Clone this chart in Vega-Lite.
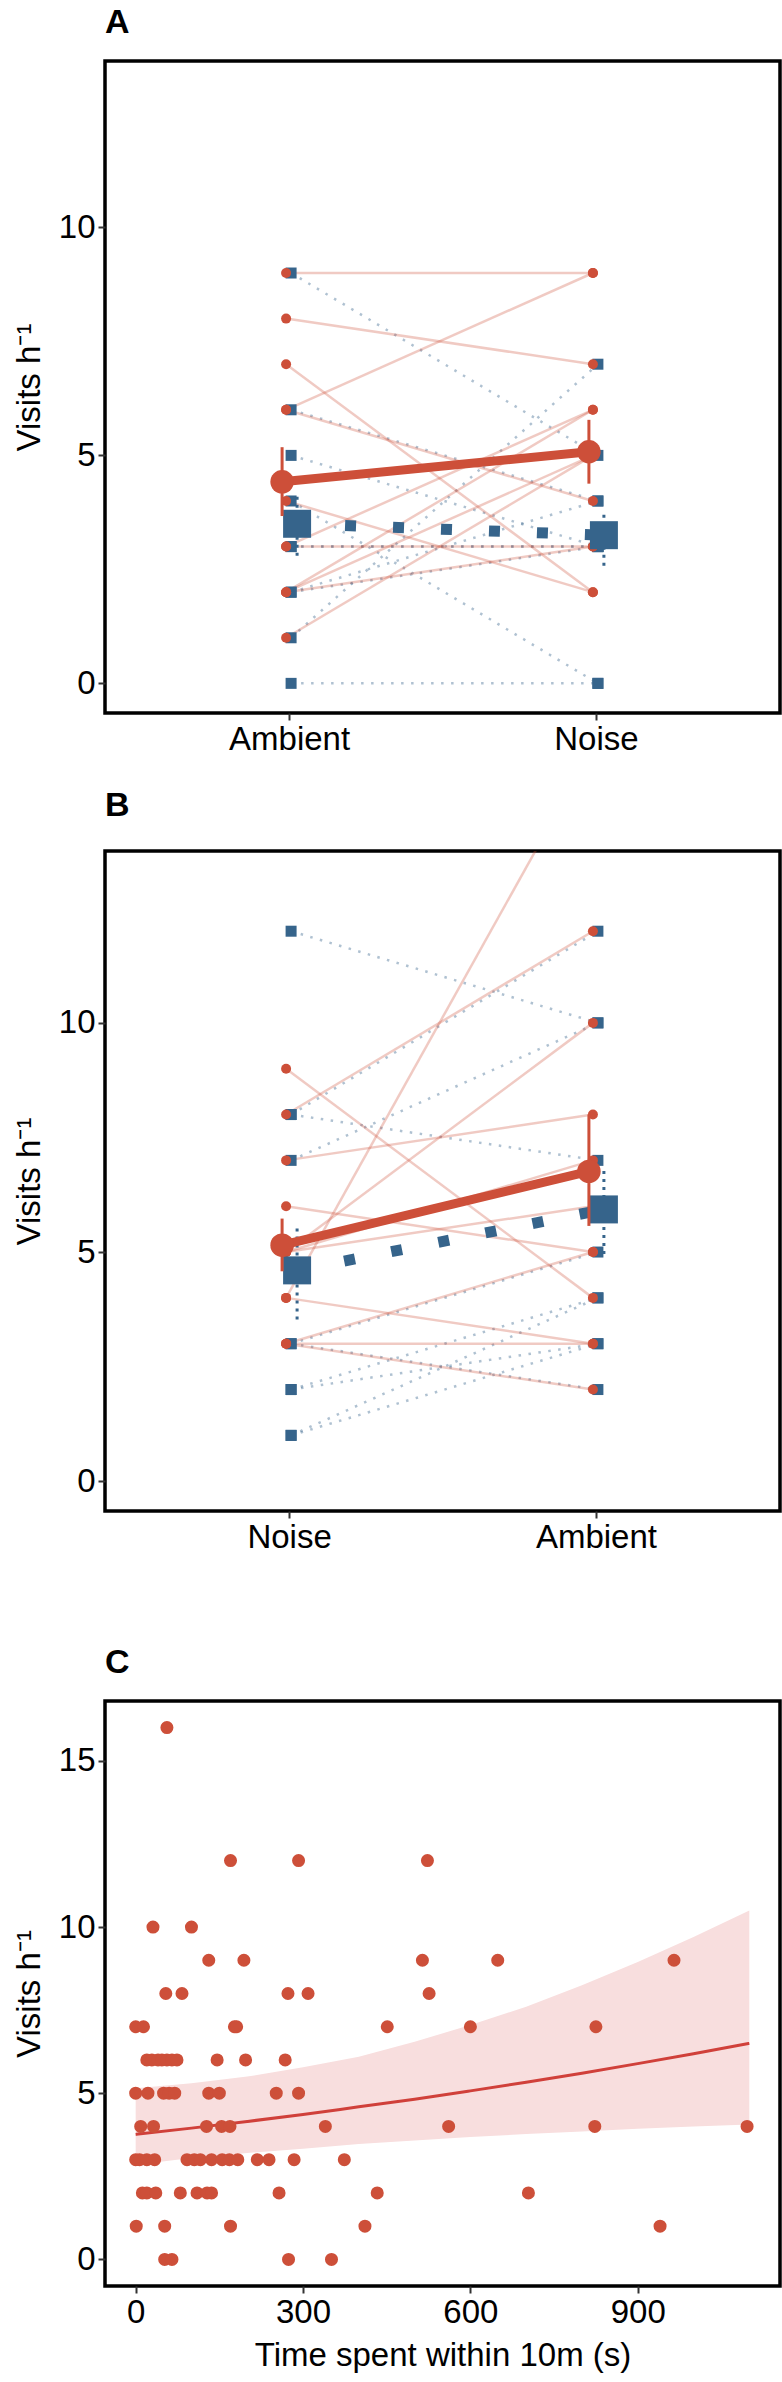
{
  "$schema": "https://vega.github.io/schema/vega-lite/v6.json",
  "background": "white",
  "padding": {"left": 11, "top": 4, "right": 2, "bottom": 0},
  "spacing": 29,
  "config": {
    "font": "Liberation Sans",
    "view": {"stroke": "black", "strokeWidth": 3.5},
    "axis": {"domain": false, "grid": false, "labelFont": "Liberation Sans", "labelFontSize": 33, "labelColor": "black", "titleFont": "Liberation Sans", "titleFontSize": 33, "titleFontWeight": "normal", "titleColor": "black", "tickColor": "#333333", "tickWidth": 2, "tickSize": 7, "labelPadding": 3},
    "axisY": {"titlePadding": 12},
    "axisX": {"titlePadding": 10, "labelAngle": 0},
    "title": {"font": "Liberation Sans", "fontSize": 34, "fontWeight": "bold", "anchor": "start", "frame": "group", "color": "black"}
  },
  "datasets": {
    "a_ind": [
      {"grp": "G1", "id": "r1", "cond": "Ambient", "v": 9}, {"grp": "G1", "id": "r1", "cond": "Noise", "v": 9},
      {"grp": "G1", "id": "r2", "cond": "Ambient", "v": 8}, {"grp": "G1", "id": "r2", "cond": "Noise", "v": 7},
      {"grp": "G1", "id": "r3", "cond": "Ambient", "v": 7}, {"grp": "G1", "id": "r3", "cond": "Noise", "v": 2},
      {"grp": "G1", "id": "r4", "cond": "Ambient", "v": 6}, {"grp": "G1", "id": "r4", "cond": "Noise", "v": 9},
      {"grp": "G1", "id": "r5", "cond": "Ambient", "v": 6}, {"grp": "G1", "id": "r5", "cond": "Noise", "v": 4},
      {"grp": "G1", "id": "r6", "cond": "Ambient", "v": 4}, {"grp": "G1", "id": "r6", "cond": "Noise", "v": 2},
      {"grp": "G1", "id": "r7", "cond": "Ambient", "v": 3}, {"grp": "G1", "id": "r7", "cond": "Noise", "v": 3},
      {"grp": "G1", "id": "r8", "cond": "Ambient", "v": 3}, {"grp": "G1", "id": "r8", "cond": "Noise", "v": 6},
      {"grp": "G1", "id": "r9", "cond": "Ambient", "v": 2}, {"grp": "G1", "id": "r9", "cond": "Noise", "v": 5},
      {"grp": "G1", "id": "r10", "cond": "Ambient", "v": 2}, {"grp": "G1", "id": "r10", "cond": "Noise", "v": 6},
      {"grp": "G1", "id": "r11", "cond": "Ambient", "v": 2}, {"grp": "G1", "id": "r11", "cond": "Noise", "v": 3},
      {"grp": "G1", "id": "r12", "cond": "Ambient", "v": 1}, {"grp": "G1", "id": "r12", "cond": "Noise", "v": 5},
      {"grp": "G2", "id": "b1", "cond": "Ambient", "v": 9}, {"grp": "G2", "id": "b1", "cond": "Noise", "v": 5},
      {"grp": "G2", "id": "b2", "cond": "Ambient", "v": 6}, {"grp": "G2", "id": "b2", "cond": "Noise", "v": 4},
      {"grp": "G2", "id": "b3", "cond": "Ambient", "v": 5}, {"grp": "G2", "id": "b3", "cond": "Noise", "v": 3},
      {"grp": "G2", "id": "b4", "cond": "Ambient", "v": 4}, {"grp": "G2", "id": "b4", "cond": "Noise", "v": 0},
      {"grp": "G2", "id": "b5", "cond": "Ambient", "v": 3}, {"grp": "G2", "id": "b5", "cond": "Noise", "v": 3},
      {"grp": "G2", "id": "b6", "cond": "Ambient", "v": 3}, {"grp": "G2", "id": "b6", "cond": "Noise", "v": 3},
      {"grp": "G2", "id": "b7", "cond": "Ambient", "v": 2}, {"grp": "G2", "id": "b7", "cond": "Noise", "v": 3},
      {"grp": "G2", "id": "b8", "cond": "Ambient", "v": 2}, {"grp": "G2", "id": "b8", "cond": "Noise", "v": 4},
      {"grp": "G2", "id": "b9", "cond": "Ambient", "v": 1}, {"grp": "G2", "id": "b9", "cond": "Noise", "v": 7},
      {"grp": "G2", "id": "b10", "cond": "Ambient", "v": 0}, {"grp": "G2", "id": "b10", "cond": "Noise", "v": 0}
    ],
    "a_mean": [
      {"grp": "G1", "cond": "Ambient", "v": 4.42, "lo": 3.67, "hi": 5.18},
      {"grp": "G1", "cond": "Noise", "v": 5.08, "lo": 4.38, "hi": 5.78},
      {"grp": "G2", "cond": "Ambient", "v": 3.5, "lo": 2.8, "hi": 4.17},
      {"grp": "G2", "cond": "Noise", "v": 3.25, "lo": 2.58, "hi": 3.7}
    ],
    "b_ind": [
      {"grp": "G1", "id": "r1", "cond": "Noise", "v": 9}, {"grp": "G1", "id": "r1", "cond": "Ambient", "v": 4},
      {"grp": "G1", "id": "r2", "cond": "Noise", "v": 8}, {"grp": "G1", "id": "r2", "cond": "Ambient", "v": 12},
      {"grp": "G1", "id": "r3", "cond": "Noise", "v": 7}, {"grp": "G1", "id": "r3", "cond": "Ambient", "v": 8},
      {"grp": "G1", "id": "r4", "cond": "Noise", "v": 6}, {"grp": "G1", "id": "r4", "cond": "Ambient", "v": 5},
      {"grp": "G1", "id": "r5", "cond": "Noise", "v": 5}, {"grp": "G1", "id": "r5", "cond": "Ambient", "v": 10},
      {"grp": "G1", "id": "r6", "cond": "Noise", "v": 5}, {"grp": "G1", "id": "r6", "cond": "Ambient", "v": 6},
      {"grp": "G1", "id": "r7", "cond": "Noise", "v": 4}, {"grp": "G1", "id": "r7", "cond": "Ambient", "v": 16},
      {"grp": "G1", "id": "r8", "cond": "Noise", "v": 4}, {"grp": "G1", "id": "r8", "cond": "Ambient", "v": 3},
      {"grp": "G1", "id": "r9", "cond": "Noise", "v": 3}, {"grp": "G1", "id": "r9", "cond": "Ambient", "v": 3},
      {"grp": "G1", "id": "r10", "cond": "Noise", "v": 3}, {"grp": "G1", "id": "r10", "cond": "Ambient", "v": 5},
      {"grp": "G1", "id": "r11", "cond": "Noise", "v": 3}, {"grp": "G1", "id": "r11", "cond": "Ambient", "v": 2},
      {"grp": "G1", "id": "r12", "cond": "Noise", "v": 5}, {"grp": "G1", "id": "r12", "cond": "Ambient", "v": 7},
      {"grp": "G2", "id": "b1", "cond": "Noise", "v": 12}, {"grp": "G2", "id": "b1", "cond": "Ambient", "v": 10},
      {"grp": "G2", "id": "b2", "cond": "Noise", "v": 8}, {"grp": "G2", "id": "b2", "cond": "Ambient", "v": 12},
      {"grp": "G2", "id": "b3", "cond": "Noise", "v": 8}, {"grp": "G2", "id": "b3", "cond": "Ambient", "v": 7},
      {"grp": "G2", "id": "b4", "cond": "Noise", "v": 7}, {"grp": "G2", "id": "b4", "cond": "Ambient", "v": 10},
      {"grp": "G2", "id": "b5", "cond": "Noise", "v": 3}, {"grp": "G2", "id": "b5", "cond": "Ambient", "v": 5},
      {"grp": "G2", "id": "b6", "cond": "Noise", "v": 3}, {"grp": "G2", "id": "b6", "cond": "Ambient", "v": 2},
      {"grp": "G2", "id": "b7", "cond": "Noise", "v": 2}, {"grp": "G2", "id": "b7", "cond": "Ambient", "v": 4},
      {"grp": "G2", "id": "b8", "cond": "Noise", "v": 2}, {"grp": "G2", "id": "b8", "cond": "Ambient", "v": 3},
      {"grp": "G2", "id": "b9", "cond": "Noise", "v": 1}, {"grp": "G2", "id": "b9", "cond": "Ambient", "v": 4},
      {"grp": "G2", "id": "b10", "cond": "Noise", "v": 1}, {"grp": "G2", "id": "b10", "cond": "Ambient", "v": 3}
    ],
    "b_mean": [
      {"grp": "G1", "cond": "Noise", "v": 5.15, "lo": 4.58, "hi": 5.73},
      {"grp": "G1", "cond": "Ambient", "v": 6.76, "lo": 5.57, "hi": 8.0},
      {"grp": "G2", "cond": "Noise", "v": 4.6, "lo": 3.53, "hi": 5.62},
      {"grp": "G2", "cond": "Ambient", "v": 5.93, "lo": 4.96, "hi": 6.84}
    ],
    "c_pts": [
      {"t": 56, "v": 16},
      {"t": 170, "v": 12}, {"t": 292, "v": 12}, {"t": 523, "v": 12},
      {"t": 31, "v": 10}, {"t": 100, "v": 10},
      {"t": 131, "v": 9}, {"t": 194, "v": 9}, {"t": 514, "v": 9}, {"t": 649, "v": 9}, {"t": 965, "v": 9},
      {"t": 54, "v": 8}, {"t": 83, "v": 8}, {"t": 273, "v": 8}, {"t": 309, "v": 8}, {"t": 526, "v": 8},
      {"t": 0, "v": 7}, {"t": 14, "v": 7}, {"t": 177, "v": 7}, {"t": 181, "v": 7}, {"t": 451, "v": 7}, {"t": 600, "v": 7}, {"t": 825, "v": 7},
      {"t": 20, "v": 6}, {"t": 29, "v": 6}, {"t": 40, "v": 6}, {"t": 47, "v": 6}, {"t": 56, "v": 6}, {"t": 65, "v": 6}, {"t": 74, "v": 6}, {"t": 146, "v": 6}, {"t": 197, "v": 6}, {"t": 268, "v": 6},
      {"t": 0, "v": 5}, {"t": 22, "v": 5}, {"t": 50, "v": 5}, {"t": 60, "v": 5}, {"t": 70, "v": 5}, {"t": 131, "v": 5}, {"t": 150, "v": 5}, {"t": 252, "v": 5}, {"t": 292, "v": 5},
      {"t": 9, "v": 4}, {"t": 32, "v": 4}, {"t": 127, "v": 4}, {"t": 154, "v": 4}, {"t": 169, "v": 4}, {"t": 340, "v": 4}, {"t": 561, "v": 4}, {"t": 823, "v": 4}, {"t": 1096, "v": 4},
      {"t": 0, "v": 3}, {"t": 7, "v": 3}, {"t": 20, "v": 3}, {"t": 34, "v": 3}, {"t": 92, "v": 3}, {"t": 105, "v": 3}, {"t": 116, "v": 3}, {"t": 136, "v": 3}, {"t": 155, "v": 3}, {"t": 168, "v": 3}, {"t": 183, "v": 3}, {"t": 218, "v": 3}, {"t": 239, "v": 3}, {"t": 284, "v": 3}, {"t": 374, "v": 3},
      {"t": 12, "v": 2}, {"t": 20, "v": 2}, {"t": 36, "v": 2}, {"t": 80, "v": 2}, {"t": 110, "v": 2}, {"t": 128, "v": 2}, {"t": 136, "v": 2}, {"t": 257, "v": 2}, {"t": 433, "v": 2}, {"t": 704, "v": 2},
      {"t": 1, "v": 1}, {"t": 52, "v": 1}, {"t": 170, "v": 1}, {"t": 411, "v": 1}, {"t": 940, "v": 1},
      {"t": 52, "v": 0}, {"t": 65, "v": 0}, {"t": 274, "v": 0}, {"t": 351, "v": 0}
    ],
    "c_fit": [
      {"t": 0, "fit": 3.76, "lo": 2.85, "hi": 5.15},
      {"t": 100, "fit": 3.95, "lo": 3.05, "hi": 5.3},
      {"t": 200, "fit": 4.15, "lo": 3.2, "hi": 5.5},
      {"t": 300, "fit": 4.36, "lo": 3.33, "hi": 5.78},
      {"t": 400, "fit": 4.59, "lo": 3.47, "hi": 6.1},
      {"t": 500, "fit": 4.82, "lo": 3.58, "hi": 6.55},
      {"t": 600, "fit": 5.07, "lo": 3.68, "hi": 7.05},
      {"t": 700, "fit": 5.33, "lo": 3.77, "hi": 7.6},
      {"t": 800, "fit": 5.6, "lo": 3.85, "hi": 8.25},
      {"t": 900, "fit": 5.89, "lo": 3.93, "hi": 8.95},
      {"t": 1000, "fit": 6.19, "lo": 4.0, "hi": 9.7},
      {"t": 1100, "fit": 6.5, "lo": 4.06, "hi": 10.5}
    ]
  },
  "vconcat": [
    {
      "width": 675, "height": 652,
      "title": {"text": "A", "offset": 21},
      "encoding": {
        "x": {"field": "cond", "type": "ordinal", "scale": {"type": "point", "padding": 0.6, "domain": ["Ambient", "Noise"]}, "axis": {"title": null, "labelAngle": 0}}
      },
      "layer": [
        {"data": {"name": "a_ind"}, "transform": [{"filter": "datum.grp == 'G2'"}],
         "mark": {"type": "line", "color": "#36648B", "strokeWidth": 2.5, "strokeDash": [2.5, 7.5], "opacity": 0.4, "xOffset": 2},
         "encoding": {"y": {"field": "v", "type": "quantitative", "title": "Visits h⁻¹", "scale": {"domain": [-0.65, 13.65], "nice": false, "zero": false}, "axis": {"values": [0, 5, 10]}}, "detail": {"field": "id"}}},
        {"data": {"name": "a_ind"}, "transform": [{"filter": "datum.grp == 'G1'"}],
         "mark": {"type": "line", "color": "#CD4F39", "strokeWidth": 2.5, "opacity": 0.3, "xOffset": -3},
         "encoding": {"y": {"field": "v", "type": "quantitative", "title": "Visits h⁻¹"}, "detail": {"field": "id"}}},
        {"data": {"name": "a_ind"}, "transform": [{"filter": "datum.grp == 'G2'"}],
         "mark": {"type": "point", "shape": "square", "filled": true, "color": "#36648B", "size": 121, "opacity": 1, "xOffset": 2},
         "encoding": {"y": {"field": "v", "type": "quantitative", "title": "Visits h⁻¹"}}},
        {"data": {"name": "a_ind"}, "transform": [{"filter": "datum.grp == 'G1'"}],
         "mark": {"type": "circle", "color": "#CD4F39", "size": 100, "opacity": 1, "xOffset": -3},
         "encoding": {"y": {"field": "v", "type": "quantitative", "title": "Visits h⁻¹"}}},
        {"data": {"name": "a_mean"}, "transform": [{"filter": "datum.grp == 'G2'"}],
         "mark": {"type": "line", "color": "#36648B", "strokeWidth": 11, "strokeDash": [11, 37], "strokeCap": "butt", "xOffset": 8},
         "encoding": {"y": {"field": "v", "type": "quantitative", "title": "Visits h⁻¹"}}},
        {"data": {"name": "a_mean"}, "transform": [{"filter": "datum.grp == 'G2'"}],
         "mark": {"type": "rule", "color": "#36648B", "strokeWidth": 3, "strokeDash": [3, 5], "xOffset": 8},
         "encoding": {"y": {"field": "lo", "type": "quantitative", "title": "Visits h⁻¹"}, "y2": {"field": "hi"}}},
        {"data": {"name": "a_mean"}, "transform": [{"filter": "datum.grp == 'G2'"}],
         "mark": {"type": "point", "shape": "square", "filled": true, "color": "#36648B", "size": 784, "opacity": 1, "xOffset": 8},
         "encoding": {"y": {"field": "v", "type": "quantitative", "title": "Visits h⁻¹"}}},
        {"data": {"name": "a_mean"}, "transform": [{"filter": "datum.grp == 'G1'"}],
         "mark": {"type": "line", "color": "#CD4F39", "strokeWidth": 9, "xOffset": -7},
         "encoding": {"y": {"field": "v", "type": "quantitative", "title": "Visits h⁻¹"}}},
        {"data": {"name": "a_mean"}, "transform": [{"filter": "datum.grp == 'G1'"}],
         "mark": {"type": "rule", "color": "#CD4F39", "strokeWidth": 3, "xOffset": -7},
         "encoding": {"y": {"field": "lo", "type": "quantitative", "title": "Visits h⁻¹"}, "y2": {"field": "hi"}}},
        {"data": {"name": "a_mean"}, "transform": [{"filter": "datum.grp == 'G1'"}],
         "mark": {"type": "circle", "color": "#CD4F39", "size": 552, "opacity": 1, "xOffset": -7},
         "encoding": {"y": {"field": "v", "type": "quantitative", "title": "Visits h⁻¹"}}}
      ]
    },
    {
      "width": 675, "height": 660,
      "title": {"text": "B", "offset": 28},
      "encoding": {
        "x": {"field": "cond", "type": "ordinal", "scale": {"type": "point", "padding": 0.6, "domain": ["Noise", "Ambient"]}, "axis": {"title": null, "labelAngle": 0}}
      },
      "layer": [
        {"data": {"name": "b_ind"}, "transform": [{"filter": "datum.grp == 'G2'"}],
         "mark": {"type": "line", "color": "#36648B", "strokeWidth": 2.5, "strokeDash": [2.5, 7.5], "opacity": 0.4, "xOffset": 2, "clip": true},
         "encoding": {"y": {"field": "v", "type": "quantitative", "title": "Visits h⁻¹", "scale": {"domain": [-0.65, 13.75], "nice": false, "zero": false}, "axis": {"values": [0, 5, 10]}}, "detail": {"field": "id"}}},
        {"data": {"name": "b_ind"}, "transform": [{"filter": "datum.grp == 'G1'"}],
         "mark": {"type": "line", "color": "#CD4F39", "strokeWidth": 2.5, "opacity": 0.3, "xOffset": -3, "clip": true},
         "encoding": {"y": {"field": "v", "type": "quantitative", "title": "Visits h⁻¹"}, "detail": {"field": "id"}}},
        {"data": {"name": "b_ind"}, "transform": [{"filter": "datum.grp == 'G2'"}],
         "mark": {"type": "point", "shape": "square", "filled": true, "color": "#36648B", "size": 121, "opacity": 1, "xOffset": 2, "clip": true},
         "encoding": {"y": {"field": "v", "type": "quantitative", "title": "Visits h⁻¹"}}},
        {"data": {"name": "b_ind"}, "transform": [{"filter": "datum.grp == 'G1'"}],
         "mark": {"type": "circle", "color": "#CD4F39", "size": 100, "opacity": 1, "xOffset": -3, "clip": true},
         "encoding": {"y": {"field": "v", "type": "quantitative", "title": "Visits h⁻¹"}}},
        {"data": {"name": "b_mean"}, "transform": [{"filter": "datum.grp == 'G2'"}],
         "mark": {"type": "line", "color": "#36648B", "strokeWidth": 11, "strokeDash": [11, 37], "strokeCap": "butt", "xOffset": 8},
         "encoding": {"y": {"field": "v", "type": "quantitative", "title": "Visits h⁻¹"}}},
        {"data": {"name": "b_mean"}, "transform": [{"filter": "datum.grp == 'G2'"}],
         "mark": {"type": "rule", "color": "#36648B", "strokeWidth": 3, "strokeDash": [3, 5], "xOffset": 8},
         "encoding": {"y": {"field": "lo", "type": "quantitative", "title": "Visits h⁻¹"}, "y2": {"field": "hi"}}},
        {"data": {"name": "b_mean"}, "transform": [{"filter": "datum.grp == 'G2'"}],
         "mark": {"type": "point", "shape": "square", "filled": true, "color": "#36648B", "size": 784, "opacity": 1, "xOffset": 8},
         "encoding": {"y": {"field": "v", "type": "quantitative", "title": "Visits h⁻¹"}}},
        {"data": {"name": "b_mean"}, "transform": [{"filter": "datum.grp == 'G1'"}],
         "mark": {"type": "line", "color": "#CD4F39", "strokeWidth": 9, "xOffset": -7},
         "encoding": {"y": {"field": "v", "type": "quantitative", "title": "Visits h⁻¹"}}},
        {"data": {"name": "b_mean"}, "transform": [{"filter": "datum.grp == 'G1'"}],
         "mark": {"type": "rule", "color": "#CD4F39", "strokeWidth": 3, "xOffset": -7},
         "encoding": {"y": {"field": "lo", "type": "quantitative", "title": "Visits h⁻¹"}, "y2": {"field": "hi"}}},
        {"data": {"name": "b_mean"}, "transform": [{"filter": "datum.grp == 'G1'"}],
         "mark": {"type": "circle", "color": "#CD4F39", "size": 552, "opacity": 1, "xOffset": -7},
         "encoding": {"y": {"field": "v", "type": "quantitative", "title": "Visits h⁻¹"}}}
      ]
    },
    {
      "width": 675, "height": 585,
      "title": {"text": ["", "C"], "lineHeight": 59, "offset": 21},
      "layer": [
        {"data": {"name": "c_fit"},
         "mark": {"type": "area", "color": "#F8DEDE", "opacity": 1},
         "encoding": {
           "x": {"field": "t", "type": "quantitative", "title": "Time spent within 10m (s)", "scale": {"domain": [-55, 1155], "nice": false, "zero": false}, "axis": {"values": [0, 300, 600, 900]}},
           "y": {"field": "lo", "type": "quantitative", "title": "Visits h⁻¹", "scale": {"domain": [-0.8, 16.8], "nice": false, "zero": false}, "axis": {"values": [0, 5, 10, 15]}},
           "y2": {"field": "hi"}}},
        {"data": {"name": "c_fit"},
         "mark": {"type": "line", "color": "#D0403A", "strokeWidth": 3, "interpolate": "monotone"},
         "encoding": {
           "x": {"field": "t", "type": "quantitative", "title": "Time spent within 10m (s)"},
           "y": {"field": "fit", "type": "quantitative", "title": "Visits h⁻¹"}}},
        {"data": {"name": "c_pts"},
         "mark": {"type": "circle", "color": "#CD4F39", "size": 170, "opacity": 1},
         "encoding": {
           "x": {"field": "t", "type": "quantitative", "title": "Time spent within 10m (s)"},
           "y": {"field": "v", "type": "quantitative", "title": "Visits h⁻¹"}}}
      ]
    }
  ]
}
